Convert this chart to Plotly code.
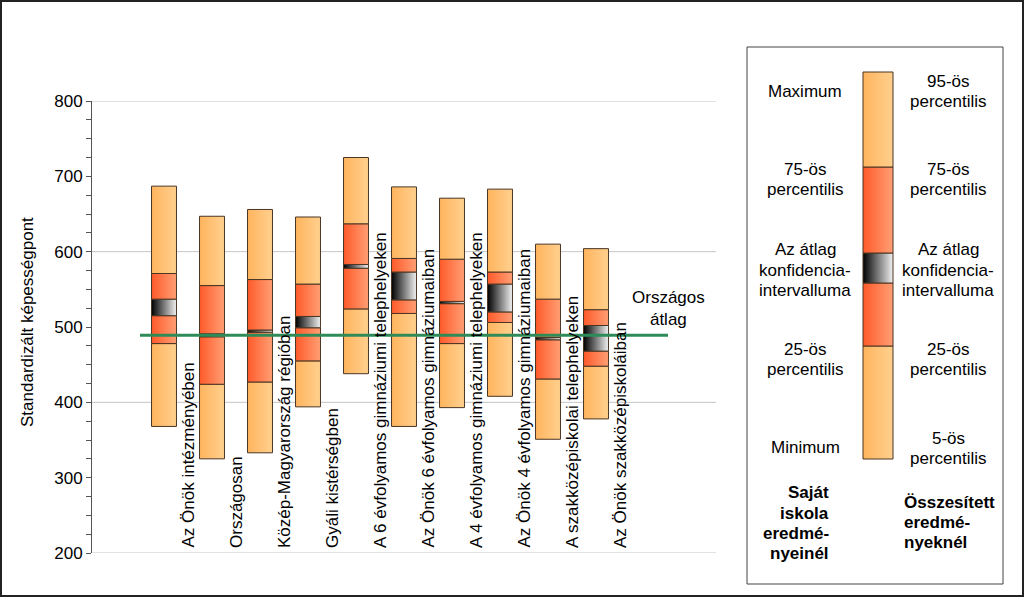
import plotly.graph_objects as go

# ---------------- data ----------------
categories = [
    "Az Önök intézményében",
    "Országosan",
    "Közép-Magyarország régióban",
    "Gyáli kistérségben",
    "A 6 évfolyamos gimnáziumi telephelyeken",
    "Az Önök 6 évfolyamos gimnáziumaiban",
    "A 4 évfolyamos gimnáziumi telephelyeken",
    "Az Önök 4 évfolyamos gimnáziumaiban",
    "A szakközépiskolai telephelyeken",
    "Az Önök szakközépiskoláiban",
]
p_low = [368, 325, 333, 394, 438, 368, 393, 408, 351, 378]
p25 = [478, 424, 427, 455, 524, 518, 478, 506, 431, 448]
ci_low = [515, 487, 493, 499, 578, 536, 531, 520, 483, 468]
ci_high = [537, 491, 496, 514, 583, 573, 534, 557, 486, 502]
p75 = [571, 555, 563, 557, 637, 591, 590, 573, 537, 523]
p_high = [687, 647, 656, 646, 725, 686, 671, 683, 610, 604]
national_mean = 489

y_ticks = [200, 300, 400, 500, 600, 700, 800]
grid_values = [200, 400, 600, 800]

# ---------------- styles ----------------
FONT = "Liberation Sans, Arial, sans-serif"
EDGE = "#4a3522"
GRAD = {
    "orange": [[0, "#FFB45E"], [1, "#FFD08E"]],
    "red": [[0, "#FF5A2A"], [1, "#FF9F74"]],
    "ci": [[0, "#000000"], [1, "#F2F2F2"]],
}
HALF_W = 0.26
W, H = 1024, 597
PLOT_L, PLOT_R, PLOT_T, PLOT_B = 92, 716, 101, 553
LINE_STEP = 20

n = len(categories)
fig = go.Figure()


def rect(x0, x1, y0, y1, kind, xa="x", ya="y"):
    fig.add_trace(go.Scatter(
        x=[x0, x1, x1, x0, x0], y=[y0, y0, y1, y1, y0],
        mode="lines", fill="toself",
        fillgradient=dict(type="horizontal", colorscale=GRAD[kind]),
        line=dict(color=EDGE, width=1),
        hoverinfo="skip", showlegend=False, xaxis=xa, yaxis=ya,
    ))


segments = [
    (p_low, p25, "orange"),
    (p25, ci_low, "red"),
    (ci_low, ci_high, "ci"),
    (ci_high, p75, "red"),
    (p75, p_high, "orange"),
]
for i in range(n):
    for lo_arr, hi_arr, kind in segments:
        rect(i - HALF_W, i + HALF_W, lo_arr[i], hi_arr[i], kind)

# national average line
fig.add_trace(go.Scatter(
    x=[-0.5, n + 0.5], y=[national_mean, national_mean], mode="lines",
    line=dict(color="#2E8B57", width=3), hoverinfo="skip", showlegend=False,
))

# ---------------- legend key (pixel coordinate axis) ----------------
leg_x0, leg_x1 = 863, 893
leg_edges = [459, 346, 283, 253, 167, 72]
leg_kinds = ["orange", "red", "ci", "red", "orange"]
for k, kind in enumerate(leg_kinds):
    rect(leg_x0, leg_x1, leg_edges[k], leg_edges[k + 1], kind, xa="x2", ya="y2")

shapes = []
for g in grid_values:
    shapes.append(dict(type="line", xref="paper", yref="y",
                       x0=PLOT_L / W, x1=PLOT_R / W, y0=g, y1=g,
                       line=dict(color="#C4C4C4", width=1), layer="below"))
shapes.append(dict(type="rect", xref="paper", yref="paper",
                   x0=747 / W, x1=1003 / W, y0=1 - 584 / H, y1=1 - 47 / H,
                   line=dict(color="#444444", width=1), layer="below"))
shapes.append(dict(type="rect", xref="paper", yref="paper",
                   x0=0, x1=1, y0=0, y1=1,
                   line=dict(color="#222222", width=4)))

annotations = []
for i, c in enumerate(categories):
    annotations.append(dict(x=i + 0.5, y=200, xref="x", yref="y", text=c,
                            textangle=-90, showarrow=False, xanchor="center",
                            yanchor="bottom", yshift=3, font=dict(size=17)))

annotations.append(dict(x=n + 0.5, y=national_mean, xref="x", yref="y",
                        text="Országos<br>átlag", showarrow=False,
                        xanchor="center", yanchor="bottom", yshift=4,
                        font=dict(size=17)))

annotations.append(dict(x=27 / W, y=1 - 322 / H, xref="paper", yref="paper",
                        text="Standardizált képességpont", textangle=-90,
                        showarrow=False, xanchor="center", yanchor="middle",
                        font=dict(size=17)))


def text_block(lines, xp, yc, anchor="center", bold=False):
    m = len(lines)
    for k, ln in enumerate(lines):
        yp = yc + (k - (m - 1) / 2) * LINE_STEP
        annotations.append(dict(
            x=xp / W, y=1 - yp / H, xref="paper", yref="paper",
            text=f"<b>{ln}</b>" if bold else ln, showarrow=False,
            xanchor=anchor, yanchor="middle", font=dict(size=17)))


left_texts = [(["Maximum"], 92), (["75-ös", "percentilis"], 180),
              (["Az átlag", "konfidencia-", "intervalluma"], 270),
              (["25-ös", "percentilis"], 359), (["Minimum"], 447)]
right_texts = [(["95-ös", "percentilis"], 92), (["75-ös", "percentilis"], 180),
               (["Az átlag", "konfidencia-", "intervalluma"], 270),
               (["25-ös", "percentilis"], 359), (["5-ös", "percentilis"], 448)]
for lines, yc in left_texts:
    text_block(lines, 805, yc)
for lines, yc in right_texts:
    text_block(lines, 948, yc)
text_block(["Saját", "iskola", "eredmé-", "nyeinél"], 831, 523, "right", True)
text_block(["Összesített", "eredmé-", "nyeknél"], 902, 522, "left", True)

fig.update_layout(
    width=W, height=H,
    margin=dict(l=0, r=0, t=0, b=0, pad=0, autoexpand=False),
    paper_bgcolor="white", plot_bgcolor="rgba(0,0,0,0)",
    font=dict(family=FONT, size=17, color="black"),
    xaxis=dict(domain=[PLOT_L / W, PLOT_R / W], range=[-1.5, n + 1.5],
               visible=False, fixedrange=True, automargin=False),
    yaxis=dict(domain=[1 - PLOT_B / H, 1 - PLOT_T / H], range=[200, 800],
               tickvals=y_ticks, showgrid=False, zeroline=False,
               showline=True, linecolor="#555555", linewidth=1,
               ticks="outside", ticklen=5, tickcolor="#555555",
               minor=dict(dtick=25, ticks="outside", ticklen=5,
                          tickcolor="#555555", showgrid=False),
               tickfont=dict(size=17), fixedrange=True, automargin=False),
    xaxis2=dict(domain=[0, 1], range=[0, W], visible=False, anchor="y2",
                automargin=False),
    yaxis2=dict(domain=[0, 1], range=[H, 0], visible=False, anchor="x2",
                automargin=False),
    shapes=shapes, annotations=annotations,
    showlegend=False,
)

fig.write_html(
    "out.html",
    config={"displayModeBar": False},
    post_script="document.body.style.margin='0';document.body.style.padding='0';",
)
